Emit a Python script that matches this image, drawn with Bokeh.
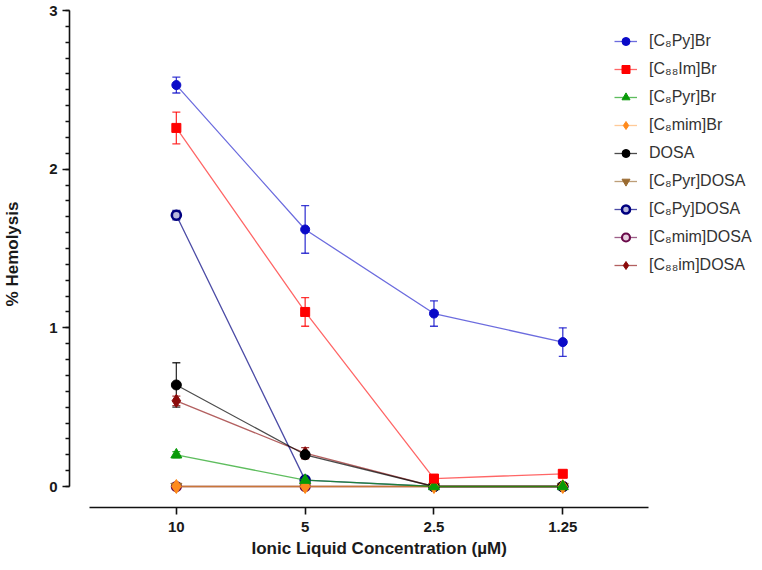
from bokeh.plotting import figure
from bokeh.models import (Range1d, LinearAxis, FixedTicker, Whisker, ColumnDataSource,
                          Legend, LegendItem, Title, TeeHead)
from bokeh.embed import file_html
from bokeh.resources import INLINE

# ---------------- data ----------------
concentrations = ["10", "5", "2.5", "1.25"]

c8py_br = [2.53, 1.62, 1.09, 0.91]
c8py_br_err = [0.05, 0.15, 0.08, 0.09]
c88im_br = [2.26, 1.10, 0.05, 0.08]
c88im_br_err = [0.10, 0.09, 0.0, 0.0]
c8pyr_br = [0.20, 0.04, 0.0, 0.0]
c8pyr_br_err = [0.02, 0.01, 0.0, 0.0]
c8mim_br = [0.0, 0.0, 0.0, 0.0]
c8mim_br_err = [0.0, 0.0, 0.0, 0.0]
dosa = [0.64, 0.20, 0.0, 0.0]
dosa_err = [0.14, 0.02, 0.0, 0.0]
c8pyr_dosa = [0.0, 0.0, 0.0, 0.0]
c8pyr_dosa_err = [0.0, 0.0, 0.0, 0.0]
c8py_dosa = [1.71, 0.04, 0.0, 0.0]
c8py_dosa_err = [0.03, 0.01, 0.0, 0.0]
c8mim_dosa = [0.0, 0.0, 0.0, 0.0]
c8mim_dosa_err = [0.0, 0.0, 0.0, 0.0]
c88im_dosa = [0.54, 0.21, 0.0, 0.0]
c88im_dosa_err = [0.03, 0.035, 0.0, 0.0]

series_labels = ["[C₈Py]Br", "[C₈₈Im]Br", "[C₈Pyr]Br", "[C₈mim]Br", "DOSA",
                 "[C₈Pyr]DOSA", "[C₈Py]DOSA", "[C₈mim]DOSA", "[C₈₈im]DOSA"]
series_values = [c8py_br, c88im_br, c8pyr_br, c8mim_br, dosa,
                 c8pyr_dosa, c8py_dosa, c8mim_dosa, c88im_dosa]
series_errors = [c8py_br_err, c88im_br_err, c8pyr_br_err, c8mim_br_err, dosa_err,
                 c8pyr_dosa_err, c8py_dosa_err, c8mim_dosa_err, c88im_dosa_err]

# ---------------- styles ----------------
styles = [
    dict(color="#0a0ac8", marker="circle", size=9, fill="#0a0ac8", lw=0, la=0.6),
    dict(color="#ff0000", marker="square", size=9, fill="#ff0000", lw=0, la=0.6),
    dict(color="#089a08", marker="triangle", size=11, fill="#089a08", lw=0, la=0.65),
    dict(color="#ff8a1c", marker="diamond", size=14, fill="#ff8a1c", lw=0, la=0.45),
    dict(color="#000000", marker="circle", size=10, fill="#000000", lw=0, la=0.7),
    dict(color="#9a6a30", marker="inverted_triangle", size=11, fill="#9a6a30", lw=0, la=0.65),
    dict(color="#000080", marker="circle", size=9, fill="#b8b8dc", lw=2.6, la=0.7),
    dict(color="#6a0a4a", marker="circle", size=9, fill="#e8d0e0", lw=2.2, la=0.65),
    dict(color="#8b0a0a", marker="diamond", size=13, fill="#8b0a0a", lw=0, la=0.65),
]

FONT = "Liberation Sans"
TXT = "#1a1a1a"
PX_X = 129.0
PX_Y = 476.0 / 3.0
X_START = -107 / PX_X
X_END = X_START + 694 / PX_X
Y_START = -21 / PX_Y
Y_END = Y_START + 507 / PX_Y

p = figure(width=762, height=570, output_backend="svg", toolbar_location=None,
           x_range=Range1d(X_START, X_END), y_range=Range1d(Y_START, Y_END),
           x_axis_type=None, y_axis_type=None,
           min_border_left=68, min_border_right=0, min_border_top=0, min_border_bottom=63)
p.outline_line_color = None
p.background_fill_color = "white"

xs = list(range(len(concentrations)))

items = [None] * len(series_labels)
for i in reversed(range(len(series_labels))):
    st = styles[i]
    vals = series_values[i]
    errs = series_errors[i]
    src = ColumnDataSource(dict(x=xs, y=vals))
    lr = p.line("x", "y", source=src, line_color=st["color"], line_alpha=st["la"], line_width=1.3)
    ex = [x for x, e in zip(xs, errs) if e > 0]
    ey = [v for v, e in zip(vals, errs) if e > 0]
    ee = [e for e in errs if e > 0]
    if ex:
        esrc = ColumnDataSource(dict(x=ex, lo=[v - e for v, e in zip(ey, ee)],
                                     hi=[v + e for v, e in zip(ey, ee)]))
        w = Whisker(base="x", lower="lo", upper="hi", source=esrc,
                    line_color=st["color"], line_width=1.3, line_alpha=0.8,
                    upper_head=TeeHead(size=8, line_color=st["color"], line_width=1.3, line_alpha=0.8),
                    lower_head=TeeHead(size=8, line_color=st["color"], line_width=1.3, line_alpha=0.8))
        p.add_layout(w)
    sr = p.scatter("x", "y", source=src, marker=st["marker"], size=st["size"],
                   fill_color=st["fill"], line_color=st["color"],
                   line_width=st["lw"] if st["lw"] > 0 else 1)
    items[i] = LegendItem(label=series_labels[i], renderers=[lr, sr])

# axes
yaxis = LinearAxis(bounds=(0, 3),
                   ticker=FixedTicker(ticks=[0, 1, 2, 3], minor_ticks=[k / 10 for k in range(31)]),
                   axis_label="% Hemolysis")
yaxis.axis_line_width = 1.6
yaxis.axis_line_color = "#111111"
yaxis.major_tick_line_width = 1.6
yaxis.minor_tick_line_width = 1.6
yaxis.major_tick_line_color = "#111111"
yaxis.minor_tick_line_color = "#111111"
yaxis.major_tick_out = 7
yaxis.major_tick_in = 0
yaxis.minor_tick_out = 4
yaxis.minor_tick_in = 0
yaxis.major_label_standoff = 5
yaxis.major_label_text_font = FONT
yaxis.major_label_text_font_size = "15px"
yaxis.major_label_text_font_style = "bold"
yaxis.major_label_text_color = TXT
yaxis.axis_label_standoff = 24
yaxis.axis_label_text_font = FONT
yaxis.axis_label_text_font_size = "17px"
yaxis.axis_label_text_font_style = "bold"
yaxis.axis_label_text_color = TXT
p.add_layout(yaxis, "left")

xaxis = LinearAxis(bounds=(-87 / PX_X, 3 + 86 / PX_X),
                   ticker=FixedTicker(ticks=xs),
                   major_label_overrides={x: c for x, c in zip(xs, concentrations)})
xaxis.axis_line_width = 1.6
xaxis.axis_line_color = "#111111"
xaxis.major_tick_line_width = 1.6
xaxis.major_tick_line_color = "#111111"
xaxis.major_tick_out = 7
xaxis.major_tick_in = 0
xaxis.minor_tick_out = 0
xaxis.minor_tick_in = 0
xaxis.major_label_standoff = 7
xaxis.major_label_text_font = FONT
xaxis.major_label_text_font_size = "15px"
xaxis.major_label_text_font_style = "bold"
xaxis.major_label_text_color = TXT
p.add_layout(xaxis, "below")

p.add_layout(Title(text="Ionic Liquid Concentration (µM)", align="left", offset=182,
                   text_font=FONT, text_font_size="17px", text_font_style="bold",
                   text_color=TXT, standoff=4), "below")

legend = Legend(items=items, location=(545, 232), border_line_color=None,
                background_fill_alpha=0, padding=0, margin=0, spacing=8,
                glyph_width=23, glyph_height=20, label_height=20, label_standoff=12,
                label_text_font=FONT, label_text_font_size="16px", label_text_color="#333333")
p.add_layout(legend)

open("out.html", "w").write(file_html(p, INLINE))
